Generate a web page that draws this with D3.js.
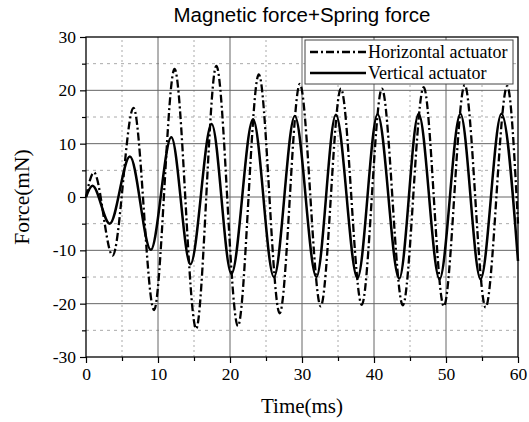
<!DOCTYPE html>
<html>
<head>
<meta charset="utf-8">
<script src="https://cdn.jsdelivr.net/npm/d3@7"></script>
<style>
  body { margin: 0; background: #fff; }
  svg { display: block; }
</style>
</head>
<body>
<div id="chart"></div>
<script>
// peaks / troughs (time in ms, force in mN)
const horizTime = [0, 1.1, 3.7, 6.6, 9.45, 12.3, 15.3, 18.1, 21.1, 24.0, 26.9, 29.7, 32.6, 35.4, 38.3, 41.1, 44.0, 46.9, 49.7, 52.6, 55.5, 58.5, 60];
const horizForce = [0, 4.6, -11.0, 16.7, -21.2, 24.0, -24.7, 24.6, -24.2, 23.0, -21.8, 21.2, -20.5, 20.3, -20.2, 20.3, -20.3, 20.6, -20.5, 21.0, -20.7, 20.8, -5];

const vertTime = [0, 0.9, 3.3, 6.1, 9.0, 11.85, 14.5, 17.45, 20.2, 23.2, 26.1, 29.0, 32.0, 34.7, 37.7, 40.5, 43.5, 46.2, 49.1, 52.0, 54.8, 57.7, 60];
const vertForce = [0, 2.1, -5.0, 7.6, -9.9, 11.2, -12.6, 13.7, -14.4, 14.6, -15.0, 15.2, -15.0, 15.4, -15.2, 15.5, -15.3, 15.6, -15.4, 15.6, -15.4, 15.6, -12];

const xMajor = [0, 10, 20, 30, 40, 50, 60];
const xMinor = [5, 15, 25, 35, 45, 55];
const yMajor = [-30, -20, -10, 0, 10, 20, 30];
const yMinor = [-25, -15, -5, 5, 15, 25];

const seriesNames = ['Horizontal actuator', 'Vertical actuator'];

const W = 529, H = 422;
const margin = {left: 86, right: 11, top: 37, bottom: 65};

const svg = d3.select('#chart').append('svg')
    .attr('width', W).attr('height', H);

const x = d3.scaleLinear().domain([0, 60]).range([margin.left, W - margin.right]);
const y = d3.scaleLinear().domain([-30, 30]).range([H - margin.bottom, margin.top]);

// minor grid (dotted)
svg.append('g').selectAll('line').data(xMinor).join('line')
    .attr('x1', d => x(d)).attr('x2', d => x(d))
    .attr('y1', y(-30)).attr('y2', y(30))
    .attr('stroke', '#aaa').attr('stroke-width', 1).attr('stroke-dasharray', '2,3');
svg.append('g').selectAll('line').data(yMinor).join('line')
    .attr('x1', x(0)).attr('x2', x(60))
    .attr('y1', d => y(d)).attr('y2', d => y(d))
    .attr('stroke', '#aaa').attr('stroke-width', 1).attr('stroke-dasharray', '3,4');

// major grid
svg.append('g').selectAll('line').data(xMajor.slice(1, -1)).join('line')
    .attr('x1', d => x(d)).attr('x2', d => x(d))
    .attr('y1', y(-30)).attr('y2', y(30))
    .attr('stroke', '#666').attr('stroke-width', 1);
svg.append('g').selectAll('line').data(yMajor.slice(1, -1)).join('line')
    .attr('x1', x(0)).attr('x2', x(60))
    .attr('y1', d => y(d)).attr('y2', d => y(d))
    .attr('stroke', '#666').attr('stroke-width', 1);

// curves
const line = d3.line()
    .x(d => x(d[0]))
    .y(d => y(d[1]))
    .curve(d3.curveMonotoneX);

const horizData = horizTime.map((t, i) => [t, horizForce[i]]);
const vertData = vertTime.map((t, i) => [t, vertForce[i]]);

svg.append('path').datum(vertData)
    .attr('d', line).attr('fill', 'none')
    .attr('stroke', '#000').attr('stroke-width', 2.5);
svg.append('path').datum(horizData)
    .attr('d', line).attr('fill', 'none')
    .attr('stroke', '#000').attr('stroke-width', 2.3)
    .attr('stroke-dasharray', '8,3,2,3');

// frame
svg.append('rect')
    .attr('x', x(0)).attr('y', y(30))
    .attr('width', x(60) - x(0)).attr('height', y(-30) - y(30))
    .attr('fill', 'none').attr('stroke', '#000').attr('stroke-width', 1.3);

// axes
const font = '"Liberation Serif", "Times New Roman", serif';
const plain = d => String(d);   // keep ascii hyphen for negatives

svg.append('g')
    .attr('transform', `translate(0,${y(-30)})`)
    .call(d3.axisBottom(x).tickValues(xMajor).tickSize(6).tickPadding(5).tickFormat(plain));
svg.append('g')
    .attr('transform', `translate(0,${y(-30)})`)
    .call(d3.axisBottom(x).tickValues(xMinor).tickSize(4).tickFormat(''));

svg.append('g')
    .attr('transform', `translate(${x(0)},0)`)
    .call(d3.axisLeft(y).tickValues(yMajor).tickSize(6).tickPadding(4).tickFormat(plain));
svg.append('g')
    .attr('transform', `translate(${x(0)},0)`)
    .call(d3.axisLeft(y).tickValues(yMinor).tickSize(4).tickFormat(''));

svg.selectAll('.domain').remove();
svg.selectAll('.tick line').attr('stroke', '#000').attr('stroke-width', 1.2);
svg.selectAll('.tick text')
    .attr('font-family', font).attr('font-size', 17.5).attr('fill', '#000');

// labels
svg.append('text')
    .attr('x', x(30)).attr('y', 22)
    .attr('text-anchor', 'middle')
    .attr('font-family', '"Liberation Sans", Arial, sans-serif')
    .attr('font-size', 20.5)
    .text('Magnetic force+Spring force');

svg.append('text')
    .attr('x', x(30)).attr('y', 413)
    .attr('text-anchor', 'middle')
    .attr('font-family', font).attr('font-size', 21)
    .text('Time(ms)');

svg.append('text')
    .attr('transform', `translate(29,${y(0)}) rotate(-90)`)
    .attr('text-anchor', 'middle')
    .attr('font-family', font).attr('font-size', 21.5)
    .text('Force(mN)');

// legend
const legend = svg.append('g');
legend.append('rect')
    .attr('x', 305).attr('y', 40).attr('width', 208).attr('height', 44)
    .attr('fill', '#fff').attr('stroke', '#444').attr('stroke-width', 1);

seriesNames.forEach((name, i) => {
    const ly = 52 + i * 21;
    legend.append('line')
        .attr('x1', 310).attr('x2', 366).attr('y1', ly).attr('y2', ly)
        .attr('stroke', '#000').attr('stroke-width', i === 0 ? 2.3 : 2.5)
        .attr('stroke-dasharray', i === 0 ? '8,3,2,3' : null);
    legend.append('text')
        .attr('x', 368).attr('y', ly + 6)
        .attr('font-family', font).attr('font-size', 18)
        .text(name);
});
</script>
</body>
</html>
